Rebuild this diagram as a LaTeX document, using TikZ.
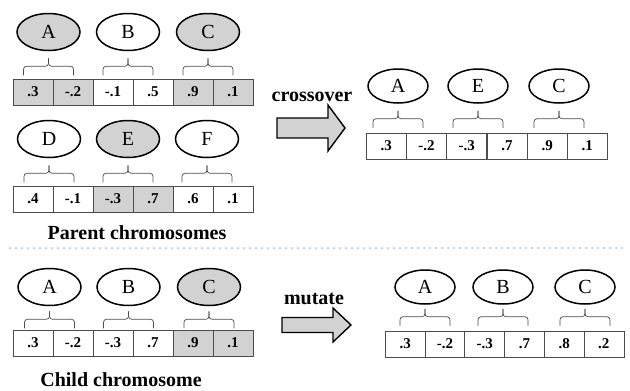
\documentclass[tikz,border=0pt]{standalone}
\usepackage{fontspec}
\setmainfont{Liberation Serif}
\usetikzlibrary{shapes.geometric}
\definecolor{shade}{HTML}{D2D2D2}
\definecolor{dotblue}{HTML}{9DB5DD}
\tikzset{
  gene/.style={ellipse, draw=black, line width=1.5pt, inner sep=0pt,
    font=\fontsize{20}{24}\selectfont},
  pgene/.style={gene, minimum width=63pt, minimum height=37pt},
  rgene/.style={gene, minimum width=60pt, minimum height=34pt},
  cell/.style={rectangle, draw=black!70, line width=0.7pt, minimum width=40pt,
    minimum height=25.5pt, inner sep=0pt, anchor=north west,
    font=\bfseries\fontsize{15}{17}\selectfont},
  brace/.style={draw=black!70, line width=0.7pt, rounded corners=3pt},
  lbl/.style={font=\bfseries\fontsize{20}{24}\selectfont},
  bigarrow/.style={draw=black, line width=1.4pt, fill=shade, line join=miter},
}
% #1 gene node, #2 gap below the ellipse
\newcommand\genebrace[2]{%
  \draw[brace] ([yshift=-#2pt]#1.south) -- ++(0,8) -| ++(-25,9);
  \draw[brace] ([yshift=-#2pt]#1.south) -- ++(0,8) -| ++(25,9);
}
\begin{document}
\begin{tikzpicture}[x=1pt,y=-1pt]
\useasboundingbox (0,0) rectangle (630,391);

% ---------- parent 1
\foreach \v/\f [count=\i] in {.3/shade,-.2/shade,-.1/white,.5/white,.9/shade,.1/shade}
  \node[cell, fill=\f] (pa\i) at ({12.7+40*(\i-1)},79) {\v};
\node[pgene, fill=shade] (gA) at (48.5,32) {A};
\node[pgene, fill=white] (gB) at (128,32) {B};
\node[pgene, fill=shade] (gC) at (208,32) {C};
\genebrace{gA}{7}\genebrace{gB}{7}\genebrace{gC}{7}

% ---------- parent 2
\foreach \v/\f [count=\i] in {.4/white,-.1/white,-.3/shade,.7/shade,.6/white,.1/white}
  \node[cell, fill=\f] (pb\i) at ({12.7+40*(\i-1)},186) {\v};
\node[pgene, fill=white] (gD) at (49,139) {D};
\node[pgene, fill=shade] (gE) at (128,139) {E};
\node[pgene, fill=white] (gF) at (207,139) {F};
\genebrace{gD}{7}\genebrace{gE}{7}\genebrace{gF}{7}

\node[lbl] (parentlbl) at (137,233) {Parent chromosomes};

% ---------- crossover arrow
\node[lbl] (xlbl) at (312,97) {crossover};
\draw[bigarrow] (277,118) -- (328,118) -- (328,105) -- (345,128) -- (328,151)
  -- (328,138) -- (277,138) -- cycle;

% ---------- crossover result
\foreach \v [count=\i] in {.3,-.2,-.3,.7,.9,.1}
  \node[cell, fill=white] (xr\i) at ({366+40.2*(\i-1)},133) {\v};
\node[rgene, fill=white] (xA) at (398,86) {A};
\node[rgene, fill=white] (xE) at (478,86) {E};
\node[rgene, fill=white] (xC) at (559,86) {C};
\genebrace{xA}{7}\genebrace{xE}{7}\genebrace{xC}{7}

% ---------- separator
\draw[dotblue, line width=2pt, line cap=round, dash pattern=on 0pt off 6pt]
  (10,248) -- (626,248);

% ---------- child
\foreach \v/\f [count=\i] in {.3/white,-.2/white,-.3/white,.7/white,.9/shade,.1/shade}
  \node[cell, fill=\f] (ch\i) at ({12.7+40*(\i-1)},330) {\v};
\node[pgene, fill=white] (cA) at (49.5,287) {A};
\node[pgene, fill=white] (cB) at (128.5,287) {B};
\node[pgene, fill=shade] (cC) at (209,287) {C};
\genebrace{cA}{5}\genebrace{cB}{5}\genebrace{cC}{5}

\node[lbl] (childlbl) at (121,380) {Child chromosome};

% ---------- mutate arrow
\node[lbl] (mlbl) at (314,299) {mutate};
\draw[bigarrow] (282,317.5) -- (333,317.5) -- (333,308) -- (351,325) -- (333,342)
  -- (333,332.5) -- (282,332.5) -- cycle;

% ---------- mutated result
\foreach \v [count=\i] in {.3,-.2,-.3,.7,.8,.2}
  \node[cell, fill=white] (mr\i) at ({385+39.7*(\i-1)},331) {\v};
\node[rgene, fill=white] (mA) at (425,287) {A};
\node[rgene, fill=white] (mB) at (503,287) {B};
\node[rgene, fill=white] (mC) at (585,287) {C};
\genebrace{mA}{4}\genebrace{mB}{4}\genebrace{mC}{4}
\end{tikzpicture}
\end{document}
